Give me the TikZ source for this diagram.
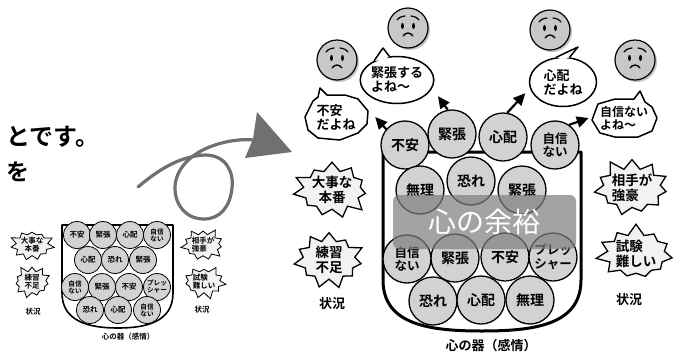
\documentclass[tikz,border=0pt]{standalone}
\usepackage{fontspec}
\newfontfamily\jp{Noto Sans CJK JP}[BoldFont={Noto Sans CJK JP Bold}]
\usetikzlibrary{shapes.symbols,shapes.geometric,shadows,arrows.meta,calc}

\definecolor{ballgray}{RGB}{210,210,210}
\definecolor{facegray}{RGB}{200,200,200}
\definecolor{burstgray}{RGB}{242,242,242}
\definecolor{curlgray}{RGB}{112,112,112}
\definecolor{veilgray}{RGB}{125,125,125}

\newcommand\jbf[2]{\jp\bfseries\fontsize{#1}{#2}\selectfont}

\tikzset{
  ball/.style={circle, draw=black, line width=1.3pt, fill=ballgray, minimum size=48pt,
    inner sep=0pt, align=center, font=\jbf{14}{14}},
  ball2/.style={ball, font=\jbf{12.5}{13.5}},
  sball/.style={ball, minimum size=27pt, line width=0.8pt, font=\jbf{7.5}{7.5}},
  sball2/.style={sball, font=\jbf{6.6}{7}},
  burst/.style={starburst, draw=black, line width=1.3pt, fill=burstgray, starburst points=11,
    starburst point height=12pt, inner sep=0pt, align=center, font=\jbf{13.5}{14.5}},
  sburst/.style={burst, line width=0.8pt, starburst point height=7pt, font=\jbf{7.5}{8}},
  facebase/.style={circle, draw=black, line width=1.2pt, fill=facegray, minimum size=40pt,
    inner sep=0pt, drop shadow={shadow xshift=2pt, shadow yshift=-2pt, fill=black!45}},
  bubline/.style={draw=black, line width=1.5pt, line join=round, fill=white},
  bubtext/.style={align=left, font=\jbf{13}{14}, inner sep=0pt},
  arr/.style={line width=2.2pt, -{Triangle[length=12pt,width=11pt]}},
  vessel/.style={line width=3pt, line join=round},
  svessel/.style={line width=1.6pt, line join=round},
  lbl/.style={font=\jbf{13}{13}},
  slbl/.style={font=\jbf{7.5}{8}},
  curl/.style={draw=curlgray, line width=3.2pt, line cap=round, line join=round},
  sadface/.pic={
    \node[facebase] {};
    \fill (-5.5,-2) ellipse [x radius=1.4, y radius=3.2];
    \fill (5.5,-2) ellipse [x radius=1.4, y radius=3.2];
    \draw[line width=1.2pt, line cap=round] (-11,-8) .. controls (-8,-11) .. (-3,-12);
    \draw[line width=1.2pt, line cap=round] (3,-12) .. controls (8,-11) .. (11,-8);
    \draw[line width=1.3pt, line cap=round] (-5,8) .. controls (-2,4) and (2,4) .. (5,8);
  }
}

\begin{document}
\begin{tikzpicture}[x=1pt,y=-1pt]
\useasboundingbox (0,0) rectangle (675,354);
\fill[white] (0,0) rectangle (675,354);

% running text of the page
\node[anchor=west, inner sep=0pt, font=\jbf{24}{24}] (txt1) at (6,137) {とです。};
\node[anchor=west, inner sep=0pt, font=\jbf{23}{23}] (txt2) at (6,172) {を};

% ---------- small overview vessel ----------
\draw[svessel] (62,225) -- (62,293) .. controls (62,322) and (90,328) .. (118,328)
  .. controls (146,328) and (173,322) .. (173,293) -- (173,225) -- cycle;
\node[sball] (sa1) at (77,235) {不安};
\node[sball] (sa2) at (103,235) {緊張};
\node[sball] (sa3) at (130,235) {心配};
\node[sball2] (sa4) at (157,235) {自信\\ない};
\node[sball] (sb1) at (88,260) {心配};
\node[sball] (sb2) at (115,260) {恐れ};
\node[sball] (sb3) at (143,260) {緊張};
\node[sball2] (sc1) at (75,287) {自信\\ない};
\node[sball] (sc2) at (102,287) {緊張};
\node[sball] (sc3) at (129,287) {不安};
\node[sball2] (sc4) at (157,287) {プレッ\\シャー};
\node[sball] (sd1) at (90,310) {恐れ};
\node[sball] (sd2) at (118,310) {心配};
\node[sball2] (sd3) at (147,310) {自信\\ない};
\node[slbl] (svl) at (128,337) {心の器（感情）};

\node[sburst, minimum width=42pt, minimum height=34pt, random starburst=3] (sx1) at (32,245) {大事な\\本番};
\node[sburst, minimum width=42pt, minimum height=30pt, random starburst=5] (sx2) at (32,282) {練習\\不足};
\node[slbl] (sxl) at (33,312) {状況};
\node[sburst, minimum width=42pt, minimum height=34pt, random starburst=9, align=left] (sy1) at (203,245) {相手が\\強豪};
\node[sburst, minimum width=38pt, minimum height=30pt, random starburst=13, align=left] (sy2) at (204,282) {試験\\難しい};
\node[slbl] (syl) at (202,310) {状況};

% ---------- curly arrow ----------
\draw[curl] (138,187) .. controls (158,170) and (180,156) .. (205,155)
  .. controls (226,155) and (234,172) .. (232,188)
  .. controls (230,207) and (220,219) .. (204,219)
  .. controls (186,219) and (175,205) .. (175,188)
  .. controls (175,170) and (190,153) .. (215,145)
  .. controls (230,140) and (244,139) .. (254,140);
\fill[curlgray] (257,112) -- (292,152) -- (245,158) -- (253,139) -- cycle;

% ---------- main vessel ----------
\draw[vessel] (383,152) -- (383,280) .. controls (383,325) and (430,331) .. (482,331)
  .. controls (534,331) and (581,325) .. (581,280) -- (581,152) -- cycle;

\node[ball] (q1) at (405,145) {不安};
\node[ball] (q2) at (452,134) {緊張};
\node[ball] (q3) at (503,137) {心配};
\node[ball2] (q4) at (555,145) {自信\\ない};
\node[ball] (r1) at (420,190) {無理};
\node[ball] (r2) at (471,181) {恐れ};
\node[ball] (r3) at (522,190) {緊張};
\node[ball2] (t1) at (407,259) {自信\\ない};
\node[ball] (t2) at (455,258) {緊張};
\node[ball] (t3) at (505,257) {不安};
\node[ball2] (t4) at (553,257) {プレッ\\シャー};
\node[ball] (u1) at (433,301) {恐れ};
\node[ball] (u2) at (481,300) {心配};
\node[ball] (u3) at (530,300) {無理};

% translucent band
\fill[veilgray, opacity=0.7, rounded corners=6pt] (393,195) rectangle (576,249);
\node[text=white, font=\jp\fontsize{28}{28}\selectfont, inner sep=0pt] (yoyu) at (484,222) {心の余裕};

\node[lbl] (vlab) at (491,346) {心の器（感情）};

% ---------- situations ----------
\node[burst, minimum width=72pt, minimum height=54pt, random starburst=21] (h1) at (332,190) {大事な\\本番};
\node[burst, minimum width=76pt, minimum height=56pt, random starburst=8] (h2) at (329,260) {練習\\不足};
\node[lbl] (hl) at (332,304) {状況};
\node[burst, minimum width=72pt, minimum height=54pt, random starburst=11, align=left] (k1) at (632,188) {相手が\\強豪};
\node[burst, minimum width=72pt, minimum height=56pt, random starburst=17, align=left] (k2) at (636,254) {試験\\難しい};
\node[lbl] (kl) at (629,300) {状況};

% ---------- faces ----------
\pic at (337,60) {sadface};
\pic at (408,28) {sadface};
\pic at (550,30) {sadface};
\pic at (635,60) {sadface};

% ---------- speech bubbles ----------
\coordinate (c1) at (336,117);
\begin{scope}[shift={(c1)}]
  \draw[bubline] (-31,0) -- (-23,-16) -- (-18,-20) -- (-16,-29) -- (-9,-22) -- (9,-22)
    -- (22,-18) -- (32,-6) -- (31,7) -- (22,16) -- (4,23) -- (-18,21) -- (-28,13) -- cycle;
\end{scope}
\node[bubtext, minimum width=64pt, minimum height=46pt] (b1) at (c1) {不安\\だよね};

\node[ellipse, bubline, minimum width=64pt, minimum height=47pt, bubtext, align=left] (b2) at (397,80) {緊張する\\よね〜};
\coordinate (tip2) at (383,48);
\fill[white] (b2.140) -- (tip2) -- (b2.108) -- ($(b2.124)!0.12!(b2.center)$) -- cycle;
\draw[line width=1.5pt, line join=round] (b2.140) -- (tip2) -- (b2.108);

\node[ellipse, bubline, minimum width=67pt, minimum height=49pt, bubtext, align=left] (b3) at (563,82) {心配\\だよね};
\coordinate (tip3) at (578,47);
\fill[white] (b3.105) -- (tip3) -- (b3.75) -- ($(b3.90)!0.12!(b3.center)$) -- cycle;
\draw[line width=1.5pt, line join=round] (b3.105) -- (tip3) -- (b3.75);

\coordinate (c4) at (624,118);
\begin{scope}[shift={(c4)}]
  \draw[bubline] (-32,2) -- (-26,-14) -- (-9,-19) -- (10,-19) -- (16,-27) -- (21,-16)
    -- (28,-11) -- (33,0) -- (28,13) -- (14,19) -- (-9,19) -- (-24,15) -- cycle;
\end{scope}
\node[bubtext, font=\jbf{12}{13}, minimum width=66pt, minimum height=40pt] (b4) at (c4) {自信ない\\よね〜};

% ---------- arrows from the feelings to the voices ----------
\draw[arr] (q1.140) -- ([xshift=7pt]b1.east);
\draw[arr] (q2.100) -- ([xshift=13pt]b2.-30);
\draw[arr] (q3.80) -- ([xshift=-7pt]b3.200);
\draw[arr] (q4.55) -- ([xshift=-2pt]b4.west);

\end{tikzpicture}
\end{document}
